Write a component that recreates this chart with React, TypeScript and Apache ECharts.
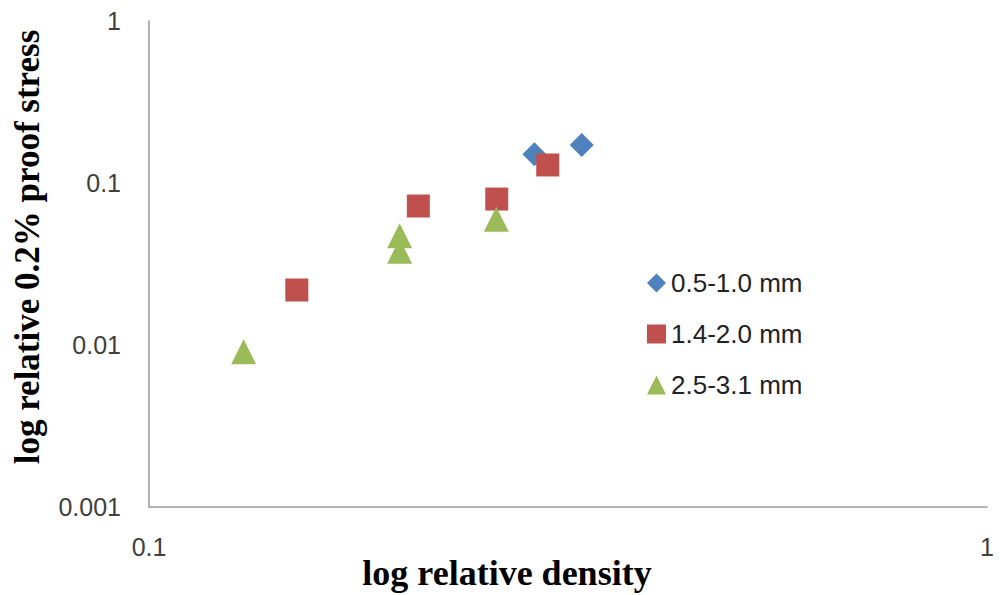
import React, { useEffect, useRef } from "react";
import * as echarts from "echarts";

const seriesNames = ["0.5-1.0 mm", "1.4-2.0 mm", "2.5-3.1 mm"];
const densityA = [0.2883, 0.3284];
const stressA = [0.1504, 0.1716];
const densityB = [0.1501, 0.2096, 0.26, 0.2991];
const stressB = [0.02185, 0.0721, 0.0796, 0.1292];
const densityC = [0.1297, 0.1991, 0.1991, 0.2597];
const stressC = [0.00909, 0.0473, 0.0379, 0.0597];
const xTitle = "log relative density";
const yTitle = "log relative 0.2% proof stress";

const pairs = (xs: number[], ys: number[]) => xs.map((x, i) => [x, ys[i]]);

export default function App() {
  const ref = useRef<HTMLDivElement>(null);
  useEffect(() => {
    if (!ref.current) return;
    const chart = echarts.init(ref.current, undefined, { renderer: "svg" });
    const tickFont = { fontFamily: "Liberation Sans", fontSize: 25, color: "#404040" };
    chart.setOption({
      animation: false,
      backgroundColor: "#ffffff",
      grid: { left: 149, top: 21, right: 13, bottom: 88, containLabel: false },
      xAxis: {
        type: "log",
        logBase: 10,
        min: 0.1,
        max: 1,
        axisLine: { show: true, lineStyle: { color: "#9a9a9a", width: 1.5 } },
        axisTick: { show: false },
        splitLine: { show: false },
        minorTick: { show: false },
        axisLabel: { ...tickFont, margin: 27 },
      },
      yAxis: {
        type: "log",
        logBase: 10,
        min: 0.001,
        max: 1,
        axisLine: { show: true, lineStyle: { color: "#9a9a9a", width: 1.5 } },
        axisTick: { show: false },
        splitLine: { show: false },
        axisLabel: { ...tickFont, margin: 28 },
      },
      legend: {
        orient: "vertical",
        left: 647,
        top: 270,
        padding: 0,
        itemWidth: 19,
        itemHeight: 19,
        itemGap: 25,
        textStyle: { fontFamily: "Liberation Sans", fontSize: 26, color: "#222" },
        data: seriesNames,
      },
      graphic: [
        {
          type: "text",
          x: 507,
          y: 573,
          style: {
            text: xTitle,
            font: "bold 36px 'Liberation Serif'",
            fill: "#000",
            align: "center",
            verticalAlign: "middle",
          },
        },
        {
          type: "text",
          x: 27,
          y: 247,
          rotation: Math.PI / 2,
          style: {
            text: yTitle,
            font: "bold 35px 'Liberation Serif'",
            fill: "#000",
            align: "center",
            verticalAlign: "middle",
          },
        },
      ],
      series: [
        {
          name: seriesNames[0],
          type: "scatter",
          symbol: "diamond",
          symbolSize: 24,
          itemStyle: { color: "#4F81BD", opacity: 1 },
          data: pairs(densityA, stressA),
        },
        {
          name: seriesNames[1],
          type: "scatter",
          symbol: "rect",
          symbolSize: 23,
          itemStyle: { color: "#C0504D", opacity: 1 },
          data: pairs(densityB, stressB),
        },
        {
          name: seriesNames[2],
          type: "scatter",
          symbol: "triangle",
          symbolSize: 25,
          itemStyle: { color: "#9BBB59", opacity: 1 },
          data: pairs(densityC, stressC),
        },
      ],
    });
    return () => chart.dispose();
  }, []);
  return (
    <div
      ref={ref}
      style={{ position: "fixed", left: 0, top: 0, width: 1000, height: 595, background: "#fff" }}
    />
  );
}
